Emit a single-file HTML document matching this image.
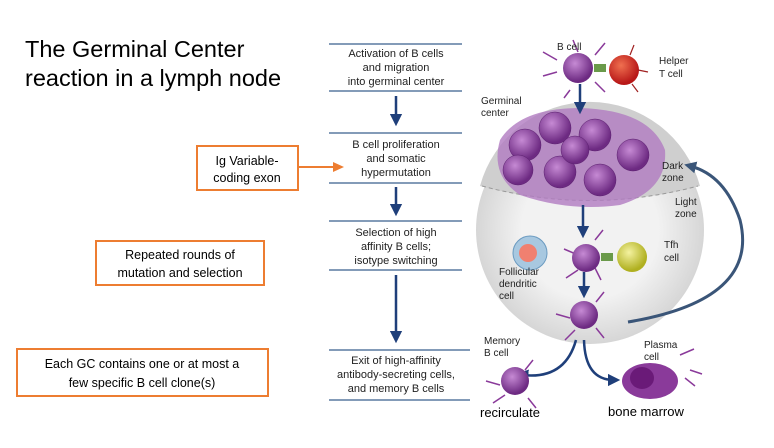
<!DOCTYPE html>
<html><head><style>
body{margin:0;background:#fff;width:774px;height:443px;overflow:hidden}
svg text{font-family:"Liberation Sans",sans-serif}
</style></head><body>
<svg width="774" height="443" viewBox="0 0 774 443" xmlns="http://www.w3.org/2000/svg">
<defs>
<marker id="ah" viewBox="0 0 10 10" refX="5" refY="5" markerWidth="5" markerHeight="5" orient="auto"><path d="M0,0L10,5L0,10z" fill="#1f3f7a"/></marker>
<marker id="ah2" viewBox="0 0 10 10" refX="5" refY="5" markerWidth="4" markerHeight="4" orient="auto"><path d="M0,0L10,5L0,10z" fill="#3a5578"/></marker>
<radialGradient id="gc" cx="0.5" cy="0.5" r="0.5"><stop offset="0.6" stop-color="#f2f2f2"/><stop offset="1" stop-color="#d6d6d6"/></radialGradient>
<radialGradient id="bc" cx="0.4" cy="0.35" r="0.6"><stop offset="0" stop-color="#c68ad4"/><stop offset="1" stop-color="#6d2a82"/></radialGradient>
<radialGradient id="tc" cx="0.4" cy="0.35" r="0.6"><stop offset="0" stop-color="#f07050"/><stop offset="1" stop-color="#b81818"/></radialGradient>
<radialGradient id="yc" cx="0.4" cy="0.35" r="0.6"><stop offset="0" stop-color="#f4f2a0"/><stop offset="1" stop-color="#b0b020"/></radialGradient>
</defs>
<g font-family="Liberation Sans,sans-serif">
<text x="25" y="57" font-size="23.5" fill="#000">The Germinal Center</text>
<text x="25" y="86" font-size="23.5" fill="#000">reaction in a lymph node</text>
<rect x="197" y="146" width="101" height="44" fill="#fff" stroke="#ed7d31" stroke-width="2"/>
<text x="247" y="165" font-size="12.5" text-anchor="middle">Ig Variable-</text>
<text x="247" y="182" font-size="12.5" text-anchor="middle">coding exon</text>
<line x1="298" y1="167" x2="335" y2="167" stroke="#ed7d31" stroke-width="2"/>
<path d="M333,162L344,167L333,172z" fill="#ed7d31"/>
<rect x="96" y="241" width="168" height="44" fill="#fff" stroke="#ed7d31" stroke-width="2"/>
<text x="180" y="259" font-size="12.5" text-anchor="middle">Repeated rounds of</text>
<text x="180" y="277" font-size="12.5" text-anchor="middle">mutation and selection</text>
<rect x="17" y="349" width="251" height="47" fill="#fff" stroke="#ed7d31" stroke-width="2"/>
<text x="142" y="368" font-size="12.5" text-anchor="middle">Each GC contains one or at most a</text>
<text x="142" y="387" font-size="12.5" text-anchor="middle">few specific B cell clone(s)</text>

<g stroke="#5a7aa0" stroke-width="1.6">
<line x1="329" y1="44" x2="462" y2="44"/><line x1="329" y1="91" x2="462" y2="91"/>
<line x1="329" y1="133" x2="462" y2="133"/><line x1="329" y1="183" x2="462" y2="183"/>
<line x1="329" y1="221" x2="462" y2="221"/><line x1="329" y1="270" x2="462" y2="270"/>
<line x1="329" y1="350" x2="470" y2="350"/><line x1="329" y1="400" x2="470" y2="400"/>
</g>
<g font-size="11" text-anchor="middle" fill="#222">
<text x="396" y="57">Activation of B cells</text><text x="396" y="71">and migration</text><text x="396" y="85">into germinal center</text>
<text x="396" y="148">B cell proliferation</text><text x="396" y="162">and somatic</text><text x="396" y="176">hypermutation</text>
<text x="396" y="236">Selection of high</text><text x="396" y="250">affinity B cells;</text><text x="396" y="264">isotype switching</text>
<text x="396" y="364">Exit of high-affinity</text><text x="396" y="378">antibody-secreting cells,</text><text x="396" y="392">and memory B cells</text>
</g>
<g stroke="#1f3f7a" stroke-width="2.5">
<line x1="396" y1="96" x2="396" y2="120" marker-end="url(#ah)"/>
<line x1="396" y1="187" x2="396" y2="210" marker-end="url(#ah)"/>
<line x1="396" y1="275" x2="396" y2="337" marker-end="url(#ah)"/>
</g>

<circle cx="590" cy="230" r="114" fill="url(#gc)"/>
<path d="M480,186 A114,114 0 0 1 700,186 Q590,215 480,186z" fill="#cfcfcf"/>
<path d="M482,186 Q590,215 698,186" fill="none" stroke="#999" stroke-dasharray="4,3"/>
<path d="M500,140 Q520,108 580,108 Q650,110 665,150 Q668,190 620,205 Q570,212 520,195 Q490,175 500,140z" fill="#b07ac0" opacity="0.8"/>
<g fill="url(#bc)" stroke="#5a1f6e" stroke-width="0.5">
<circle cx="525" cy="145" r="16"/><circle cx="555" cy="128" r="16"/><circle cx="595" cy="135" r="16"/><circle cx="633" cy="155" r="16"/>
<circle cx="518" cy="170" r="15"/><circle cx="560" cy="172" r="16"/><circle cx="600" cy="180" r="16"/><circle cx="575" cy="150" r="14"/>
</g>
<g stroke="#1f3f7a" stroke-width="2.5" fill="none">
<line x1="580" y1="84" x2="580" y2="108" marker-end="url(#ah)"/>
<line x1="583" y1="205" x2="583" y2="232" marker-end="url(#ah)"/>
<line x1="584" y1="272" x2="584" y2="292" marker-end="url(#ah)"/>
<path d="M576,340 Q565,380 522,375" marker-end="url(#ah)"/>
<path d="M584,340 Q585,380 614,380" marker-end="url(#ah)"/>
</g>
<path d="M628,322 Q760,300 740,220 Q725,175 690,166" fill="none" stroke="#3a5578" stroke-width="3" marker-end="url(#ah2)"/>
<g stroke="#8a3a9a" stroke-width="1.5">
<path d="M557,60l-14,-8M557,72l-14,4M595,55l10,-12M595,82l10,10M578,52l-5,-12M570,90l-6,8"/>
<path d="M578,255l-14,-6M578,270l-12,8M595,240l8,-10M595,268l6,12"/>
<path d="M570,318l-14,-4M575,330l-10,10M596,302l8,-10M596,328l8,10"/>
<path d="M500,385l-14,-4M505,395l-12,8M525,370l8,-10M528,398l8,10"/>
<path d="M680,355l14,-6M690,370l12,4M685,378l10,8"/>
</g>
<circle cx="578" cy="68" r="15" fill="url(#bc)"/>
<rect x="594" y="64" width="12" height="8" fill="#6a9a4a"/>
<circle cx="624" cy="70" r="15" fill="url(#tc)"/>
<g stroke="#a02020" stroke-width="1.2"><path d="M630,55l4,-10M638,70l10,2M632,84l6,8"/></g>
<circle cx="530" cy="253" r="17" fill="#a8c8e0" stroke="#6a9ac0"/>
<circle cx="528" cy="253" r="9" fill="#f08070"/>
<circle cx="586" cy="258" r="14" fill="url(#bc)"/>
<rect x="601" y="253" width="12" height="8" fill="#6a9a4a"/>
<circle cx="632" cy="257" r="15" fill="url(#yc)"/>
<circle cx="584" cy="315" r="14" fill="url(#bc)"/>
<circle cx="515" cy="381" r="14" fill="url(#bc)"/>
<ellipse cx="650" cy="381" rx="28" ry="18" fill="#8a3a9a"/>
<ellipse cx="642" cy="378" rx="12" ry="11" fill="#6a1a78"/>
<g font-size="10" fill="#222">
<text x="557" y="50">B cell</text>
<text x="659" y="64">Helper</text><text x="659" y="77">T cell</text>
<text x="481" y="104">Germinal</text><text x="481" y="116">center</text>
<text x="662" y="169">Dark</text><text x="662" y="181">zone</text>
<text x="675" y="205">Light</text><text x="675" y="217">zone</text>
<text x="664" y="248">Tfh</text><text x="664" y="261">cell</text>
<text x="499" y="275">Follicular</text><text x="499" y="287">dendritic</text><text x="499" y="299">cell</text>
<text x="484" y="344">Memory</text><text x="484" y="356">B cell</text>
<text x="644" y="348">Plasma</text><text x="644" y="360">cell</text>
</g>
<text x="480" y="417" font-size="13" fill="#000">recirculate</text>
<text x="608" y="416" font-size="13" fill="#000">bone marrow</text>
</g>
</svg>
</body></html>
